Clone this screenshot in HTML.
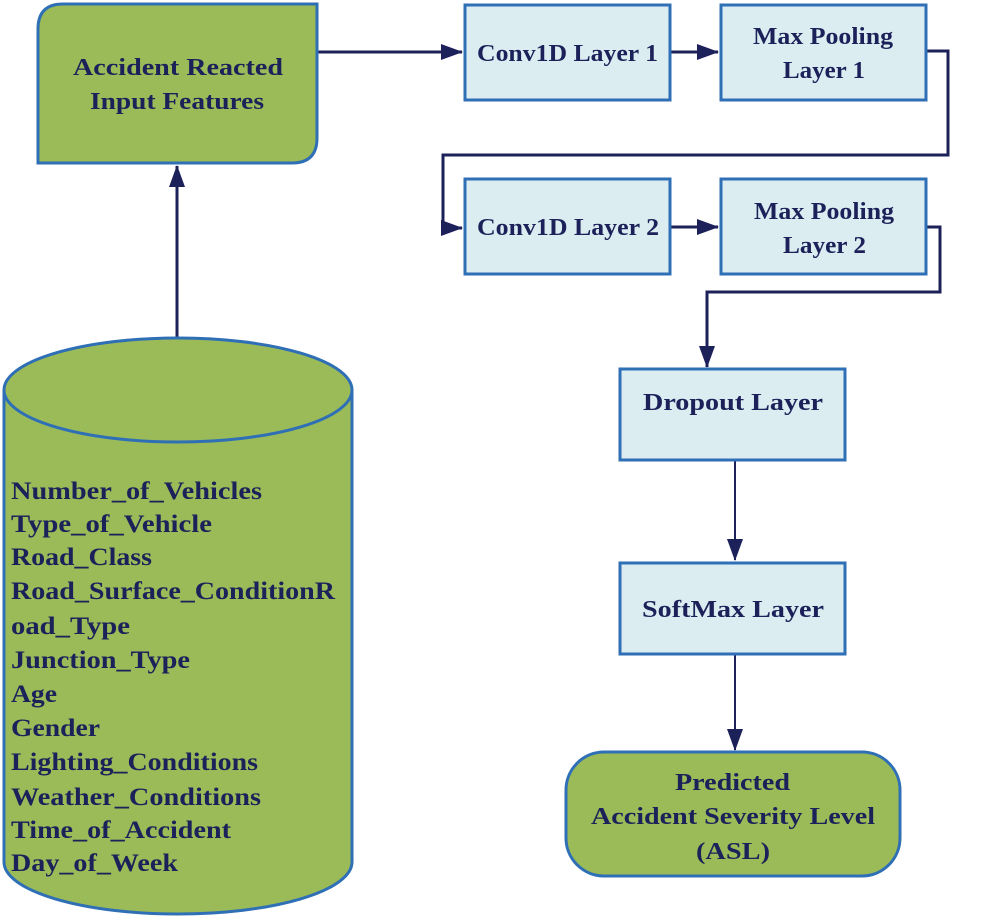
<!DOCTYPE html>
<html><head><meta charset="utf-8"><style>
body{margin:0;background:#fff}
svg text{font-family:"Liberation Serif","DejaVu Serif",serif;font-weight:bold;fill:#1c2159}
</style></head><body>
<svg width="1000" height="917" viewBox="0 0 1000 917" xmlns="http://www.w3.org/2000/svg">
<defs>
<marker id="b" markerWidth="22" markerHeight="16" refX="21" refY="8" orient="auto" markerUnits="userSpaceOnUse"><path d="M0,0 L22,8 L0,16z" fill="#1c2159"/></marker></defs>
<g fill="none" stroke="#1c2159" stroke-width="3">
<path d="M318,52 H462" marker-end="url(#b)"/>
<path d="M671,52 H718" marker-end="url(#b)"/>
<path d="M927,51 H948 V155 H443 V228 H462" marker-end="url(#b)"/>
<path d="M671,227 H718" marker-end="url(#b)"/>
<path d="M927,227 H940 V292 H707 V367" marker-end="url(#b)"/>
<path d="M177,338 V166" marker-end="url(#b)"/>
</g>
<g fill="none" stroke="#1c2159" stroke-width="2">
<path d="M735,460 V560" marker-end="url(#b)"/>
<path d="M735,655 V750" marker-end="url(#b)"/>
</g>
<path d="M63,4 H317 V138 Q317,163 292,163 H38 V29 Q38,4 63,4z" fill="#9bbb59" stroke="#2f6fb5" stroke-width="3"/>
<g font-size="24" lengthAdjust="spacingAndGlyphs">
<text x="73" y="75" textLength="210" lengthAdjust="spacingAndGlyphs">Accident Reacted</text>
<text x="90" y="109" textLength="174" lengthAdjust="spacingAndGlyphs">Input Features</text>
</g>
<g fill="#dcedf2" stroke="#2f6fb5" stroke-width="3">
<rect x="465" y="5" width="205" height="95"/>
<rect x="721" y="5" width="205" height="95"/>
<rect x="465" y="179" width="205" height="95"/>
<rect x="721" y="179" width="205" height="95"/>
<rect x="620" y="369" width="225" height="91"/>
<rect x="620" y="563" width="225" height="91"/>
</g>
<g font-size="24">
<text x="477" y="61" textLength="181" lengthAdjust="spacingAndGlyphs">Conv1D Layer 1</text>
<text x="753" y="44" textLength="140" lengthAdjust="spacingAndGlyphs">Max Pooling</text>
<text x="783" y="78" textLength="82" lengthAdjust="spacingAndGlyphs">Layer 1</text>
<text x="477" y="235" textLength="182" lengthAdjust="spacingAndGlyphs">Conv1D Layer 2</text>
<text x="754" y="219" textLength="140" lengthAdjust="spacingAndGlyphs">Max Pooling</text>
<text x="783" y="253" textLength="83" lengthAdjust="spacingAndGlyphs">Layer 2</text>
<text x="643" y="410" textLength="180" lengthAdjust="spacingAndGlyphs">Dropout Layer</text>
<text x="642" y="617" textLength="182" lengthAdjust="spacingAndGlyphs">SoftMax Layer</text>
</g>
<rect x="566" y="752" width="334" height="124" rx="38" fill="#9bbb59" stroke="#2f6fb5" stroke-width="3"/>
<g font-size="24">
<text x="675" y="790" textLength="115" lengthAdjust="spacingAndGlyphs">Predicted</text>
<text x="591" y="824" textLength="284" lengthAdjust="spacingAndGlyphs">Accident Severity Level</text>
<text x="696" y="859" textLength="74" lengthAdjust="spacingAndGlyphs">(ASL)</text>
</g>
<path d="M4,390 V862 A174,52 0 0 0 352,862 V390" fill="#9bbb59" stroke="#2f6fb5" stroke-width="3"/>
<ellipse cx="178" cy="390" rx="174" ry="52" fill="#9bbb59" stroke="#2f6fb5" stroke-width="3"/>
<g font-size="25">
<text x="11" y="499" textLength="251" lengthAdjust="spacingAndGlyphs">Number_of_Vehicles</text>
<text x="11" y="532" textLength="201" lengthAdjust="spacingAndGlyphs">Type_of_Vehicle</text>
<text x="11" y="565" textLength="141" lengthAdjust="spacingAndGlyphs">Road_Class</text>
<text x="11" y="599" textLength="324" lengthAdjust="spacingAndGlyphs">Road_Surface_ConditionR</text>
<text x="11" y="634" textLength="119" lengthAdjust="spacingAndGlyphs">oad_Type</text>
<text x="11" y="668" textLength="179" lengthAdjust="spacingAndGlyphs">Junction_Type</text>
<text x="11" y="702" textLength="46" lengthAdjust="spacingAndGlyphs">Age</text>
<text x="11" y="736" textLength="89" lengthAdjust="spacingAndGlyphs">Gender</text>
<text x="11" y="770" textLength="247" lengthAdjust="spacingAndGlyphs">Lighting_Conditions</text>
<text x="11" y="805" textLength="250" lengthAdjust="spacingAndGlyphs">Weather_Conditions</text>
<text x="11" y="838" textLength="220" lengthAdjust="spacingAndGlyphs">Time_of_Accident</text>
<text x="11" y="871" textLength="167" lengthAdjust="spacingAndGlyphs">Day_of_Week</text>
</g>
</svg>
</body></html>
